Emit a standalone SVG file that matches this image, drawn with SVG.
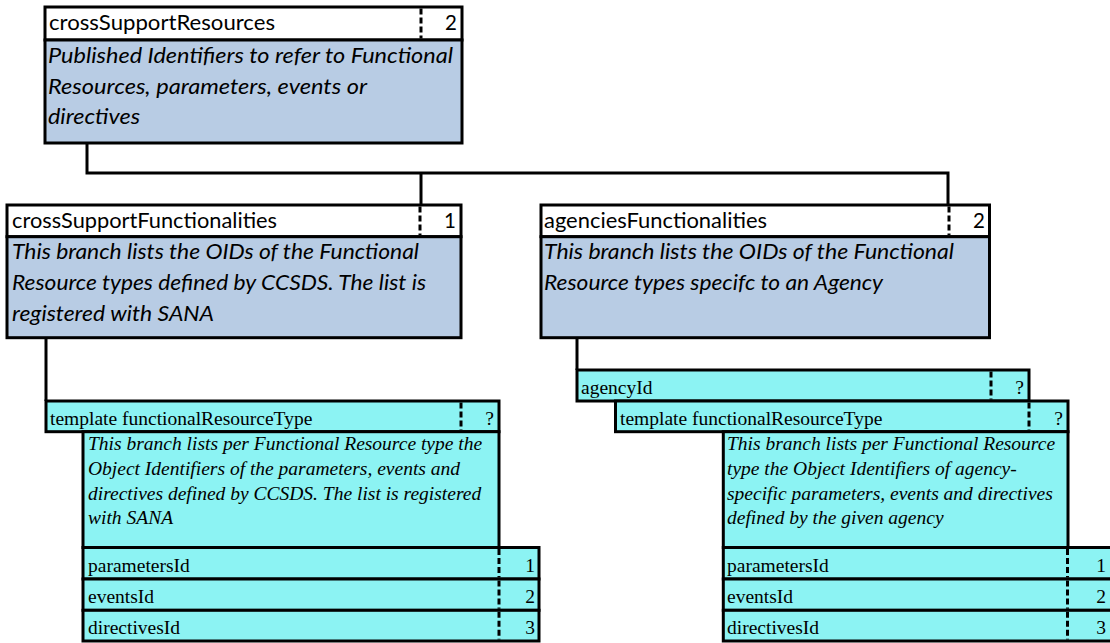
<svg xmlns="http://www.w3.org/2000/svg" width="1110" height="643" viewBox="0 0 1110 643">
<style>
.hdr{fill:#ffffff;stroke:#000;stroke-width:3}
.blue{fill:#b8cce4;stroke:#000;stroke-width:3}
.cyan{fill:#8cf3f3;stroke:#000;stroke-width:3}
.dash{stroke:#000;stroke-width:3;stroke-dasharray:6 3;fill:none}
.con{stroke:#000;stroke-width:3;fill:none}
.cal{font-family:Lato,"Liberation Sans",sans-serif;font-size:20.5px;fill:#000}
.cali{font-family:Lato,"Liberation Sans",sans-serif;font-size:20.5px;font-style:italic;fill:#000}
.tnr{font-family:"Liberation Serif","Times New Roman",serif;font-size:19.5px;fill:#000}
.tnri{font-family:"Liberation Serif","Times New Roman",serif;font-size:19.5px;font-style:italic;fill:#000}
.end{text-anchor:end}
</style>
<g id="connectors">
<polyline class="con" points="87,143 87,173 948,173 948,205"/>
<line class="con" x1="421" y1="173" x2="421" y2="205"/>
<line class="con" x1="46" y1="337.5" x2="46" y2="401"/>
<line class="con" x1="577" y1="337.5" x2="577" y2="370"/>
</g>
<g id="crossSupportResources">
<rect class="hdr" x="45" y="7" width="417" height="33"/>
<rect class="blue" x="45" y="40" width="417" height="103"/>
<line class="dash" x1="421" y1="8.5" x2="421" y2="38.5"/>
<text class="cal" x="49" y="30" textLength="226" lengthAdjust="spacingAndGlyphs">crossSupportResources</text>
<text class="cal end" x="457" y="30">2</text>
<text class="cali" x="48" y="63" textLength="405" lengthAdjust="spacingAndGlyphs">Published Identifiers to refer to Functional</text>
<text class="cali" x="48" y="93.5" textLength="319" lengthAdjust="spacingAndGlyphs">Resources, parameters, events or</text>
<text class="cali" x="48" y="124" textLength="92" lengthAdjust="spacingAndGlyphs">directives</text>
</g>
<g id="crossSupportFunctionalities">
<rect class="hdr" x="7" y="205" width="454" height="31.7"/>
<rect class="blue" x="7" y="236.7" width="454" height="101"/>
<line class="dash" x1="420" y1="206.5" x2="420" y2="235"/>
<text class="cal" x="12" y="228" textLength="265" lengthAdjust="spacingAndGlyphs">crossSupportFunctionalities</text>
<text class="cal end" x="456" y="228">1</text>
<text class="cali" x="12" y="259" textLength="407" lengthAdjust="spacingAndGlyphs">This branch lists the OIDs of the Functional</text>
<text class="cali" x="12" y="290" textLength="414" lengthAdjust="spacingAndGlyphs">Resource types defined by CCSDS. The list is</text>
<text class="cali" x="12" y="321" textLength="202" lengthAdjust="spacingAndGlyphs">registered with SANA</text>
</g>
<g id="agenciesFunctionalities">
<rect class="hdr" x="541" y="205" width="448.5" height="31.7"/>
<rect class="blue" x="541" y="236.7" width="448.5" height="101"/>
<line class="dash" x1="949" y1="206.5" x2="949" y2="235"/>
<text class="cal" x="544" y="228" textLength="223" lengthAdjust="spacingAndGlyphs">agenciesFunctionalities</text>
<text class="cal end" x="985" y="228">2</text>
<text class="cali" x="544" y="259" textLength="410" lengthAdjust="spacingAndGlyphs">This branch lists the OIDs of the Functional</text>
<text class="cali" x="544" y="290" textLength="339" lengthAdjust="spacingAndGlyphs">Resource types specifc to an Agency</text>
</g>
<g id="templateLeft">
<rect class="cyan" x="46" y="401" width="453" height="30.7"/>
<line class="dash" x1="461" y1="402.5" x2="461" y2="430"/>
<text class="tnr" x="50" y="425">template functionalResourceType</text>
<text class="tnr end" x="494" y="425">?</text>
<rect class="cyan" x="83" y="431.7" width="416" height="115.8"/>
<text class="tnri" x="88" y="450">This branch lists per Functional Resource type the</text>
<text class="tnri" x="88" y="475">Object Identifiers of the parameters, events and</text>
<text class="tnri" x="88" y="499.5">directives defined by CCSDS. The list is registered</text>
<text class="tnri" x="88" y="524">with SANA</text>
</g>
<g id="parametersIdLeft">
<rect class="cyan" x="83" y="547.5" width="456" height="31.5"/>
<line class="dash" x1="499" y1="549" x2="499" y2="577.5"/>
<text class="tnr" x="88" y="572">parametersId</text>
<text class="tnr end" x="535" y="572">1</text>
</g>
<g id="eventsIdLeft">
<rect class="cyan" x="83" y="579" width="456" height="31.3"/>
<line class="dash" x1="499" y1="580.5" x2="499" y2="608.8"/>
<text class="tnr" x="88" y="603">eventsId</text>
<text class="tnr end" x="535" y="603">2</text>
</g>
<g id="directivesIdLeft">
<rect class="cyan" x="83" y="610.3" width="456" height="30.7"/>
<line class="dash" x1="499" y1="611.8" x2="499" y2="639.5"/>
<text class="tnr" x="88" y="634">directivesId</text>
<text class="tnr end" x="535" y="634">3</text>
</g>
<g id="agencyId">
<rect class="cyan" x="577" y="370" width="452" height="31"/>
<line class="dash" x1="991" y1="371.5" x2="991" y2="399.5"/>
<text class="tnr" x="581" y="394">agencyId</text>
<text class="tnr end" x="1024" y="394">?</text>
</g>
<g id="templateRight">
<rect class="cyan" x="615.5" y="401" width="452.5" height="30.7"/>
<line class="dash" x1="1029" y1="402.5" x2="1029" y2="430"/>
<text class="tnr" x="620" y="425">template functionalResourceType</text>
<text class="tnr end" x="1063" y="425">?</text>
<rect class="cyan" x="723.3" y="431.7" width="344.7" height="115.8"/>
<text class="tnri" x="727" y="450">This branch lists per Functional Resource</text>
<text class="tnri" x="727" y="475">type the Object Identifiers of agency-</text>
<text class="tnri" x="727" y="499.5">specific parameters, events and directives</text>
<text class="tnri" x="727" y="524">defined by the given agency</text>
</g>
<g id="parametersIdRight">
<rect class="cyan" x="723.3" y="547.5" width="390" height="31.5"/>
<line class="dash" x1="1067.5" y1="549" x2="1067.5" y2="577.5"/>
<text class="tnr" x="727" y="572">parametersId</text>
<text class="tnr end" x="1106" y="572">1</text>
</g>
<g id="eventsIdRight">
<rect class="cyan" x="723.3" y="579" width="390" height="31.3"/>
<line class="dash" x1="1067.5" y1="580.5" x2="1067.5" y2="608.8"/>
<text class="tnr" x="727" y="603">eventsId</text>
<text class="tnr end" x="1106" y="603">2</text>
</g>
<g id="directivesIdRight">
<rect class="cyan" x="723.3" y="610.3" width="390" height="30.7"/>
<line class="dash" x1="1067.5" y1="611.8" x2="1067.5" y2="639.5"/>
<text class="tnr" x="727" y="634">directivesId</text>
<text class="tnr end" x="1106" y="634">3</text>
</g>
</svg>
